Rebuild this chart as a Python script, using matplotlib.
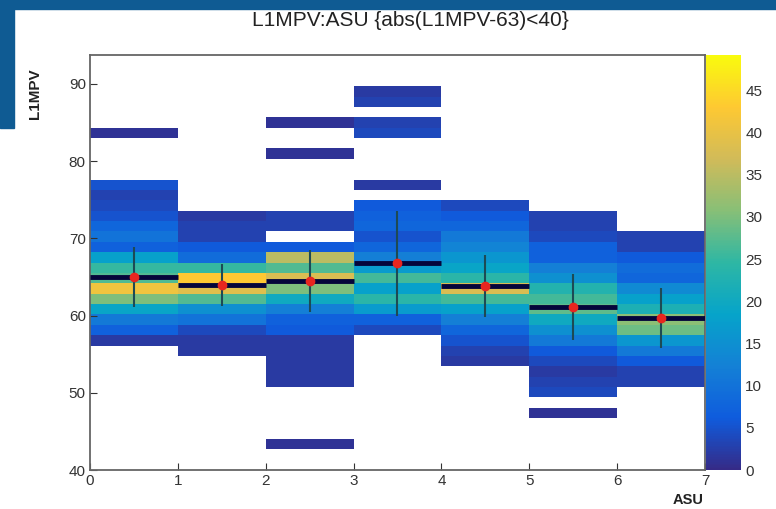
import numpy as np
import matplotlib.pyplot as plt
from matplotlib.colors import LinearSegmentedColormap
from matplotlib.patches import Rectangle

plt.rcParams['font.family'] = ['Liberation Sans', 'DejaVu Sans']

# binning: 7 ASU bins, 40 bins in L1MPV (ROOT auto range)
asu_edges = np.arange(0, 8)
y_min, y_max, n_ybins = 40.0, 93.75, 40
z_max = 49.2

# entries per ASU column -> {L1MPV bin index: entries}
counts_asu0 = {12: 2, 13: 7, 14: 11, 15: 19, 16: 30, 17: 41, 18: 27, 19: 25, 20: 18,
               21: 7, 22: 10, 23: 8, 24: 5, 25: 4, 26: 3, 27: 5, 32: 1}
counts_asu1 = {11: 2, 12: 2, 13: 4, 14: 10, 15: 15, 16: 27, 17: 39, 18: 43, 19: 25,
               20: 9, 21: 6, 22: 3, 23: 3, 24: 2}
counts_asu2 = {2: 1, 8: 2, 9: 2, 10: 2, 11: 2, 12: 2, 13: 6, 14: 7, 15: 12, 16: 20,
               17: 30, 18: 38, 19: 27, 20: 35, 21: 6, 23: 3, 24: 3, 30: 1, 33: 1}
counts_asu3 = {13: 4, 14: 7, 15: 17, 16: 24, 17: 18, 18: 26, 19: 17, 20: 12, 21: 8,
               22: 5, 23: 8, 24: 7, 25: 6, 27: 2, 32: 4, 33: 3, 35: 3, 36: 2}
counts_asu4 = {10: 2, 11: 3, 12: 5, 13: 8, 14: 12, 15: 18, 16: 26, 17: 38, 18: 24,
               19: 19, 20: 16, 21: 13, 22: 11, 23: 8, 24: 6, 25: 4}
counts_asu5 = {5: 1, 7: 4, 8: 3, 9: 2, 10: 4, 11: 6, 12: 11, 13: 15, 14: 20, 15: 28,
               16: 26, 17: 23, 18: 15, 19: 12, 20: 7, 21: 7, 22: 4, 23: 3, 24: 3}
counts_asu6 = {8: 3, 9: 3, 10: 6, 11: 11, 12: 16, 13: 29, 14: 31, 15: 22, 16: 18,
               17: 14, 18: 8, 19: 9, 20: 6, 21: 3, 22: 3}

# profile (mean and spread of L1MPV per ASU)
prof_mean = [65.0, 64.0, 64.5, 66.8, 63.8, 61.1, 59.7]
prof_err = [3.9, 2.7, 4.0, 6.8, 4.0, 4.3, 3.9]

# ROOT kBird palette
stops = [0.0, 0.125, 0.25, 0.375, 0.5, 0.625, 0.75, 0.875, 1.0]
red = [0.2082, 0.0592, 0.0780, 0.0232, 0.1802, 0.5301, 0.8186, 0.9956, 0.9764]
green = [0.1664, 0.3599, 0.5041, 0.6419, 0.7178, 0.7492, 0.7328, 0.7862, 0.9832]
blue = [0.5293, 0.8684, 0.8385, 0.7914, 0.6425, 0.4662, 0.3499, 0.1968, 0.0539]
kbird = LinearSegmentedColormap.from_list(
    'kbird', [(s, (r, g, b)) for s, r, g, b in zip(stops, red, green, blue)])

columns = [counts_asu0, counts_asu1, counts_asu2, counts_asu3,
           counts_asu4, counts_asu5, counts_asu6]
H = np.zeros((n_ybins, len(columns)))
for i, col in enumerate(columns):
    for k, v in col.items():
        H[k, i] = v
y_edges = np.linspace(y_min, y_max, n_ybins + 1)

fig = plt.figure(figsize=(7.76, 5.09), dpi=100)

# slide background bits
fig.patches.append(Rectangle((0, 1 - 9 / 509), 1, 9 / 509, transform=fig.transFigure,
                             color='#0f5b93', zorder=0))
fig.patches.append(Rectangle((0, 1 - 128 / 509), 14 / 776, 128 / 509,
                             transform=fig.transFigure, color='#0f5b93', zorder=0))

ax = fig.add_axes([90 / 776, 39 / 509, 615 / 776, 415 / 509])
cax = fig.add_axes([706 / 776, 39 / 509, 35 / 776, 415 / 509])

mesh = ax.pcolormesh(asu_edges, y_edges, np.ma.masked_equal(H, 0), cmap=kbird,
                     vmin=0, vmax=z_max)

centers = (asu_edges[:-1] + asu_edges[1:]) / 2
m = np.array(prof_mean)
e = np.array(prof_err)
ax.hlines(m, asu_edges[:-1], asu_edges[1:], color='#05053a', lw=3.5, zorder=3)
ax.vlines(centers, m - e, m + e, color='#1d4a55', lw=1.5, zorder=4)
ax.plot(centers, m, 'o', color='#e8261f', ms=6, zorder=5)

ax.set_xlim(0, 7)
ax.set_ylim(y_min, y_max)
ax.set_xticks(range(0, 8))
ax.set_yticks(range(40, 91, 10))
ax.tick_params(direction='in', length=5, labelsize=11, colors='#333333', pad=3)
for s in ax.spines.values():
    s.set_color('#666666')
    s.set_linewidth(1.3)

cb = fig.colorbar(mesh, cax=cax)
cb.set_ticks(range(0, 46, 5))
cb.outline.set_visible(False)
cax.tick_params(length=0, labelsize=11, colors='#333333', pad=3)

fig.text(410 / 776, 1 - 21 / 509, 'L1MPV:ASU {abs(L1MPV-63)<40}', fontsize=15,
         ha='center', va='center', color='#222222')
fig.text(35 / 776, 1 - 68 / 509, 'L1MPV', rotation=90, fontsize=11, fontweight='bold',
         ha='center', va='top', color='#222222')
fig.text(704 / 776, 1 - 500 / 509, 'ASU', fontsize=10.5, fontweight='bold',
         ha='right', va='center', color='#222222')

fig.savefig('out.png', dpi=100)
